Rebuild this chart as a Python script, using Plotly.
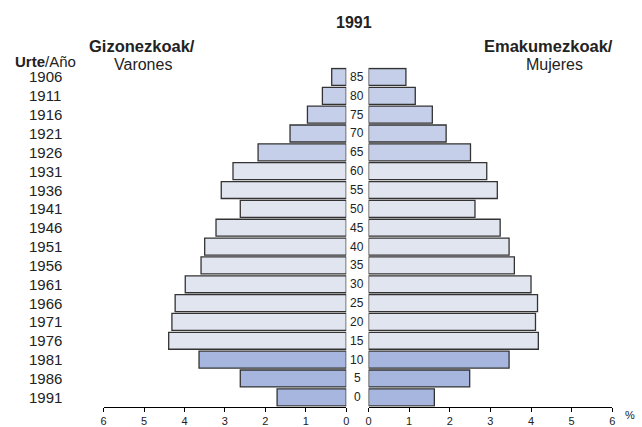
import plotly.graph_objects as go

# ---- data ----
ages = ["85", "80", "75", "70", "65", "60", "55", "50", "45",
        "40", "35", "30", "25", "20", "15", "10", "5", "0"]
years = ["1906", "1911", "1916", "1921", "1926", "1931", "1936", "1941", "1946",
         "1951", "1956", "1961", "1966", "1971", "1976", "1981", "1986", "1991"]
males = [0.36, 0.59, 0.96, 1.39, 2.18, 2.80, 3.09, 2.62, 3.22,
         3.50, 3.59, 3.98, 4.23, 4.31, 4.39, 3.64, 2.62, 1.71]
females = [0.92, 1.15, 1.57, 1.91, 2.51, 2.91, 3.17, 2.62, 3.24,
           3.46, 3.59, 4.00, 4.16, 4.11, 4.18, 3.46, 2.49, 1.62]
groups = ["old"] * 5 + ["work"] * 10 + ["young"] * 3
x_ticks = [0, 1, 2, 3, 4, 5, 6]

# ---- style ----
W, H = 642, 427
group_colors = {"old": "#c5cfe9", "work": "#e1e5ef", "young": "#a6b6de"}
colors = [group_colors[g] for g in groups]
FONT = "Liberation Sans, Arial, sans-serif"

def px(x):
    return x / W

def py(y):
    return (H - y) / H

y_dom = [py(415.5), py(69.0)]
cat_order = ages[::-1]          # bottom -> top
n = len(cat_order)

fig = go.Figure()
fig.add_trace(go.Bar(y=ages, x=males, orientation="h", xaxis="x", yaxis="y",
                     marker=dict(color=colors, line=dict(color="#333333", width=1.3)),
                     showlegend=False))
fig.add_trace(go.Bar(y=ages, x=females, orientation="h", xaxis="x2", yaxis="y2",
                     marker=dict(color=colors, line=dict(color="#333333", width=1.3)),
                     showlegend=False))

axis_common = dict(showgrid=False, zeroline=False, showline=True, linecolor="#000000",
                   linewidth=1, ticks="outside", ticklen=4, tickcolor="#000000",
                   tickvals=x_ticks, ticktext=[str(t) for t in x_ticks],
                   tickfont=dict(family=FONT, size=11, color="#222222"))
yaxis_common = dict(type="category", showgrid=False, zeroline=False, showline=False,
                    showticklabels=False, ticks="", categoryorder="array",
                    categoryarray=cat_order, range=[-0.5, n - 0.5], domain=y_dom)

fig.update_layout(
    width=W, height=H,
    margin=dict(l=0, r=0, t=0, b=0),
    paper_bgcolor="white", plot_bgcolor="white",
    bargap=0.1,
    xaxis=dict(domain=[px(101.5), px(346.5)], range=[6, 0], anchor="y", **axis_common),
    xaxis2=dict(domain=[px(369), px(615)], range=[0, 6], anchor="y2", **axis_common),
    yaxis=dict(anchor="x", **yaxis_common),
    yaxis2=dict(anchor="x2", **yaxis_common),
)

ann = []
for a, yr in zip(ages, years):
    pos = cat_order.index(a)   # category serial number on the y axis
    ann.append(dict(x=px(357.5), xref="paper", y=pos, yref="y", text=a, showarrow=False,
                    xanchor="center", yanchor="middle",
                    font=dict(family=FONT, size=12, color="#222222")))
    ann.append(dict(x=px(42.5), xref="paper", y=pos, yref="y", text=yr, showarrow=False,
                    xanchor="center", yanchor="middle",
                    font=dict(family=FONT, size=15, color="#222222")))

def txt(x, y, s, size=15, anchor="center"):
    ann.append(dict(x=px(x), y=py(y), xref="paper", yref="paper", text=s, showarrow=False,
                    xanchor=anchor, yanchor="middle",
                    font=dict(family=FONT, size=size, color="#222222")))

txt(354.5, 22.5, "<b>1991</b>", 16)
txt(43, 62.5, "<b>Urte</b>/Año", 15)
txt(140, 46.5, "<b>Gizonezkoak/</b>", 16.5)
txt(141, 65.5, "Varones", 16)
txt(551, 46.5, "<b>Emakumezkoak/</b>", 16.5)
txt(557, 65.5, "Mujeres", 16)
txt(633, 424, "%", 11)

fig.update_layout(annotations=ann)
fig.write_html("out.html", config={"displayModeBar": False},
               post_script="document.body.style.margin='0';document.body.style.overflow='hidden';")
